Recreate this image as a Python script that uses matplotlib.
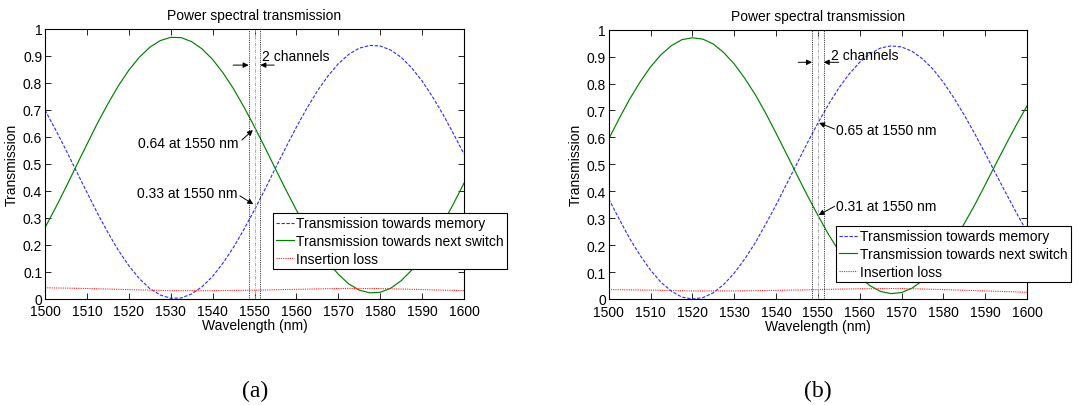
import matplotlib
matplotlib.use("Agg")
import matplotlib.pyplot as plt
from matplotlib.ticker import FuncFormatter, MultipleLocator

# Wavelength grid (nm) of the sampled transmission spectra
wavelength = [1500 + 2.5 * i for i in range(41)]
wavelength_loss = [1500, 1510, 1520, 1530, 1540, 1550, 1560, 1570, 1580, 1590, 1600]

# Panel (a)
memory_a = [0.699, 0.627, 0.551, 0.472, 0.394, 0.317, 0.245, 0.179, 0.122, 0.074,
            0.037, 0.013, 0.001, 0.002, 0.017, 0.044, 0.082, 0.132, 0.190, 0.257,
            0.329, 0.405, 0.484, 0.561, 0.636, 0.706, 0.770, 0.825, 0.871, 0.906,
            0.929, 0.939, 0.937, 0.922, 0.895, 0.856, 0.807, 0.748, 0.683, 0.611,
            0.536]
switch_a = [0.263, 0.336, 0.413, 0.493, 0.572, 0.650, 0.722, 0.789, 0.847, 0.895,
            0.932, 0.957, 0.969, 0.968, 0.953, 0.926, 0.887, 0.837, 0.778, 0.710,
            0.637, 0.560, 0.481, 0.403, 0.328, 0.256, 0.192, 0.136, 0.090, 0.054,
            0.031, 0.021, 0.023, 0.038, 0.066, 0.105, 0.155, 0.214, 0.280, 0.352,
            0.428]
loss_a = [0.040, 0.037, 0.033, 0.029, 0.029, 0.031, 0.034, 0.037, 0.037, 0.033, 0.029]

# Panel (b)
memory_b = [0.372, 0.297, 0.225, 0.162, 0.107, 0.062, 0.029, 0.007, 0.000, 0.005,
            0.023, 0.054, 0.096, 0.148, 0.208, 0.277, 0.349, 0.426, 0.503, 0.580,
            0.653, 0.721, 0.783, 0.836, 0.879, 0.911, 0.932, 0.940, 0.936, 0.920,
            0.892, 0.854, 0.805, 0.747, 0.683, 0.614, 0.541, 0.466, 0.392, 0.319,
            0.250]
switch_b = [0.594, 0.670, 0.742, 0.806, 0.862, 0.907, 0.941, 0.963, 0.970, 0.965,
            0.947, 0.915, 0.873, 0.820, 0.760, 0.691, 0.616, 0.539, 0.461, 0.384,
            0.311, 0.241, 0.179, 0.126, 0.082, 0.049, 0.028, 0.020, 0.024, 0.040,
            0.068, 0.107, 0.156, 0.214, 0.280, 0.349, 0.424, 0.500, 0.575, 0.648,
            0.717]
loss_b = [0.035, 0.033, 0.030, 0.030, 0.032, 0.035, 0.038, 0.039, 0.035, 0.030, 0.025]

# Channel window around 1550 nm
channel_center = 1550
channel_edges = [1548.6, 1551.4]

# Values quoted at 1550 nm
value_a_switch, value_a_memory = 0.64, 0.33
value_b_memory, value_b_switch = 0.65, 0.31

legend_labels = ["Transmission towards memory",
                 "Transmission towards next switch",
                 "Insertion loss"]

plt.rcParams["font.family"] = ["Liberation Sans", "DejaVu Sans"]
plt.rcParams["font.size"] = 10

W, H = 1091, 406
fig = plt.figure(figsize=(W / 100, H / 100), dpi=100)


def px_axes(left, top, right, bottom):
    return fig.add_axes([left / W, 1 - bottom / H, (right - left) / W, (bottom - top) / H])


def arrow(ax, start, end):
    ax.annotate("", xy=end, xytext=start,
                arrowprops=dict(arrowstyle="-|>", color="k", lw=0.7,
                                mutation_scale=8, shrinkA=0, shrinkB=0))


def draw_panel(ax, memory, switch, loss, legend_anchor):
    l1, = ax.plot(wavelength, memory, color="#2a2aff", ls=(0, (3, 1.5)), lw=0.8)
    l2, = ax.plot(wavelength, switch, color="#008000", ls="-", lw=0.85)
    l3, = ax.plot(wavelength_loss, loss, color="#ff2020", ls=(0, (1, 1)), lw=0.8)

    for x in channel_edges:
        ax.axvline(x, color="k", ls=(0, (1, 1.2)), lw=0.6)
    ax.axvline(channel_center, color="#a0a0a0", ls=(0, (4, 1.5, 1, 1.5)), lw=0.6)

    ax.set_xlim(1500, 1600)
    ax.set_ylim(0, 1)
    ax.xaxis.set_major_locator(MultipleLocator(10))
    ax.yaxis.set_major_locator(MultipleLocator(0.1))
    ax.yaxis.set_major_formatter(FuncFormatter(lambda v, p: f"{v:g}"))
    ax.xaxis.set_major_formatter(FuncFormatter(lambda v, p: f"{v:g}"))
    ax.tick_params(direction="in", length=4, width=0.6, top=True, right=True,
                   labelsize=10, colors="k")
    ax.tick_params(axis="y", pad=2)
    ax.tick_params(axis="x", pad=4)
    for s in ax.spines.values():
        s.set_linewidth(0.8)

    ax.set_title("Power spectral transmission", fontsize=10, pad=7)
    ax.set_xlabel("Wavelength (nm)", fontsize=10, labelpad=0)
    ax.set_ylabel("Transmission", fontsize=10, labelpad=3)

    leg = ax.legend([l1, l2, l3], legend_labels, loc="upper left",
                    bbox_to_anchor=legend_anchor, fontsize=10, frameon=True,
                    fancybox=False, framealpha=1, edgecolor="k",
                    borderpad=0.25, borderaxespad=0, labelspacing=0.26,
                    handlelength=1.25, handletextpad=0.2)
    leg.get_frame().set_linewidth(0.8)
    leg.set_clip_on(False)
    return ax


# ---- panel (a)
ax_a = px_axes(45, 30, 464, 299.5)
draw_panel(ax_a, memory_a, switch_a, loss_a, (0.5434, 0.3173))
ax_a.text(1551.8, 0.899, "2 channels", ha="left", va="center", fontsize=10)
arrow(ax_a, (1544.9, 0.866), (channel_edges[0], 0.866))
arrow(ax_a, (1554.7, 0.866), (channel_edges[1], 0.866))
ax_a.text(1546.3, 0.578, f"{value_a_switch:.2f} at 1550 nm", ha="right", va="center")
arrow(ax_a, (1547.0, 0.588), (1549.6, value_a_switch - 0.015))
ax_a.text(1546.0, 0.391, f"{value_a_memory:.2f} at 1550 nm", ha="right", va="center")
arrow(ax_a, (1546.5, 0.381), (1549.7, value_a_memory + 0.02))
fig.text(255.5 / W, 1 - 391 / H, "(a)", ha="center", va="center",
         fontsize=17, family="Liberation Serif")

# ---- panel (b)
ax_b = px_axes(608.7, 30.7, 1027, 300)
draw_panel(ax_b, memory_b, switch_b, loss_b, (0.5434, 0.271))
ax_b.text(1553.1, 0.906, "2 channels", ha="left", va="center", fontsize=10)
arrow(ax_b, (1545.3, 0.879), (channel_edges[0], 0.879))
arrow(ax_b, (1555.0, 0.879), (channel_edges[1], 0.879))
ax_b.text(1554.3, 0.628, f"{value_b_memory:.2f} at 1550 nm", ha="left", va="center")
arrow(ax_b, (1554.0, 0.631), (1550.3, value_b_memory + 0.004))
ax_b.text(1554.3, 0.344, f"{value_b_switch:.2f} at 1550 nm", ha="left", va="center")
arrow(ax_b, (1554.0, 0.344), (1550.2, value_b_switch + 0.002))
fig.text(818 / W, 1 - 391 / H, "(b)", ha="center", va="center",
         fontsize=17, family="Liberation Serif")

fig.savefig("out.png", dpi=100)
